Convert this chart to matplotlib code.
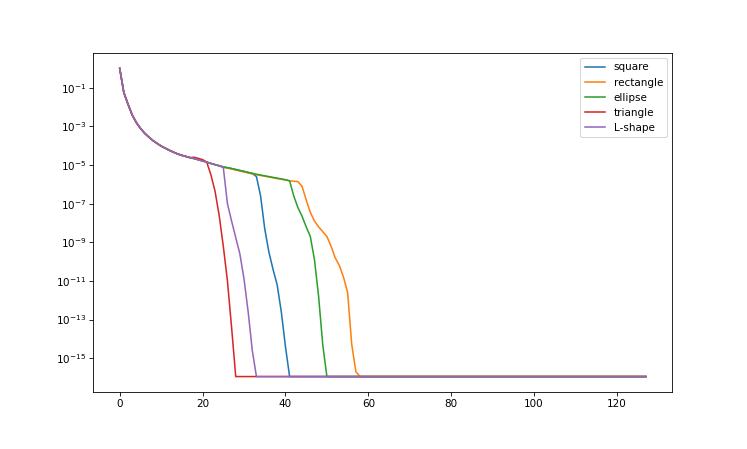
import numpy as np
import matplotlib
matplotlib.use("Agg")
import matplotlib.pyplot as plt

# log10 of the values
n_iter = 128
floor_exp = -15.95

# shared decay, iterations 0..24
shared = [0.0, -1.25, -1.85, -2.4, -2.8, -3.1, -3.35, -3.55, -3.73, -3.88,
          -4.02, -4.13, -4.24, -4.34, -4.43, -4.5, -4.56, -4.62, -4.67, -4.73,
          -4.79, -4.85, -4.92, -4.98, -5.04]

# iterations 25.. for each shape, until the floor
square_tail = [-5.1, -5.14, -5.19, -5.24, -5.29, -5.34, -5.39, -5.44, -5.6,
               -6.6, -8.3, -9.5, -10.4, -11.2, -12.6, -14.4]
rectangle_tail = [-5.12, -5.16, -5.21, -5.26, -5.31, -5.36, -5.41, -5.46, -5.5,
                  -5.54, -5.58, -5.62, -5.66, -5.7, -5.74, -5.78, -5.82, -5.84,
                  -5.86, -6.1, -6.8, -7.45, -7.9, -8.2, -8.45, -8.7, -9.2, -9.8,
                  -10.2, -10.8, -11.6, -14.3, -15.7]
ellipse_tail = [-5.1, -5.14, -5.18, -5.23, -5.28, -5.33, -5.38, -5.43, -5.48,
                -5.52, -5.56, -5.6, -5.64, -5.68, -5.72, -5.76, -5.82, -6.6,
                -7.2, -7.65, -8.2, -8.7, -9.9, -11.8, -14.3]
triangle_head = [-4.6, -4.66, -4.72, -4.85, -5.5, -6.35, -7.6, -9.2, -11.0,
                 -13.4]  # iterations 18..27
lshape_tail = [-5.12, -7.0, -7.9, -8.75, -9.6, -10.9, -12.6, -14.6]

labels = ["square", "rectangle", "ellipse", "triangle", "L-shape"]


def build(head, tail):
    vals = list(head) + list(tail)
    vals += [floor_exp] * (n_iter - len(vals))
    return 10.0 ** np.array(vals)


series = [
    build(shared, square_tail),
    build(shared, rectangle_tail),
    build(shared, ellipse_tail),
    build(shared[:18], triangle_head),
    build(shared, lshape_tail),
]

fig, ax = plt.subplots(figsize=(10, 449 / 74.7), dpi=74.7)
fig.subplots_adjust(left=0.125, right=0.9, bottom=0.127, top=0.882)

for vals, lab in zip(series, labels):
    ax.plot(np.arange(n_iter), vals, label=lab)

ax.set_yscale("log")
ax.legend(loc="upper right")

fig.savefig("out.png", dpi=74.7)
